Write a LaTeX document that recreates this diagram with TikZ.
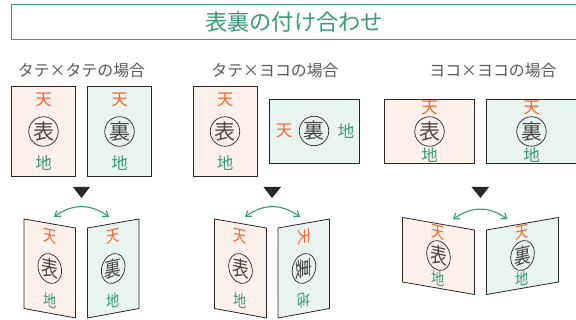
\documentclass[tikz,border=0pt]{standalone}
\usepackage{fontspec}
\setmainfont{Noto Sans CJK JP}
\definecolor{pgreen}{HTML}{3A9A7C}
\definecolor{porange}{HTML}{F26A35}
\definecolor{pink}{HTML}{FEF0EB}
\definecolor{mint}{HTML}{E9F3EF}
\definecolor{ink}{HTML}{2B2727}
\definecolor{lab}{HTML}{5A5A5A}
\usetikzlibrary{arrows.meta}
\tikzset{
  sheet/.style={draw=ink,line width=0.8pt},
  ten/.style={text=porange,font=\fontsize{16.5}{16.5}\selectfont,inner sep=0pt,transform shape},
  chi/.style={text=pgreen,font=\fontsize{16.5}{16.5}\selectfont,inner sep=0pt,transform shape},
  seal/.style={draw=ink,circle,line width=0.7pt,minimum size=29.5pt,inner sep=0pt,text=ink!85,font=\fontsize{21}{21}\selectfont,transform shape},
  heading/.style={text=lab,font=\fontsize{15.9}{15.9}\selectfont,inner sep=0pt},
  swing/.style={draw=pgreen,line width=1.1pt,{Straight Barb[length=5pt,width=7pt]}-{Straight Barb[length=5pt,width=7pt]}},
  drop/.style={fill=ink,draw=none}
}
\newcommand{\faces}[4]{% cx, cy, face, dy
  \node[ten] (#3t) at (#1,#2-#4) {天};
  \node[seal] (#3s) at (#1,#2) {#3};
  \node[chi] (#3b) at (#1,#2+#4) {地};
}
\begin{document}
\begin{tikzpicture}[x=1pt,y=-1pt]
\useasboundingbox (0,0) rectangle (576,320);
\fill[white] (0,0) rectangle (576,320);
% title
\node[draw=pgreen,line width=0.9pt,minimum width=575pt,minimum height=35pt,inner sep=0pt,anchor=north west] (title) at (11,4.5) {};
\node[text=pgreen,font=\fontsize{22.2}{22.2}\selectfont,inner sep=0pt] (titletext) at (294,22) {表裏の付け合わせ};
% headings
\node[heading] (h1) at (81.5,71) {タテ×タテの場合};
\node[heading] (h2) at (275,71) {タテ×ヨコの場合};
\node[heading] (h3) at (493,71) {ヨコ×ヨコの場合};
% case 1 flat
\draw[sheet,fill=pink] (11.5,86.5) rectangle (75.5,176);
\begin{scope}\faces{43.5}{131.5}{表}{31.5}\end{scope}
\draw[sheet,fill=mint] (87.5,86.5) rectangle (151.5,176);
\begin{scope}\faces{119.5}{131.5}{裏}{31.5}\end{scope}
% case 2 flat
\draw[sheet,fill=pink] (193,86.5) rectangle (257,176);
\begin{scope}\faces{225}{131.5}{表}{31.5}\end{scope}
\draw[sheet,fill=mint] (269,99.5) rectangle (359,163);
\node[ten] (t2) at (284,131) {天};
\node[seal] (s2) at (314,131) {裏};
\node[chi] (c2) at (346,131) {地};
% case 3 flat
\draw[sheet,fill=pink] (384.5,99.5) rectangle (474.5,163);
\begin{scope}\faces{429.5}{131.5}{表}{23.5}\end{scope}
\draw[sheet,fill=mint] (486.5,99.5) rectangle (577,163);
\begin{scope}\faces{531.5}{131.5}{裏}{23.5}\end{scope}
% triangles
\path[drop] (73,187) -- (90,187) -- (81.5,198) -- cycle;
\path[drop] (263.5,187) -- (281,187) -- (272,198) -- cycle;
\path[drop] (471.5,187) -- (489,187) -- (480.5,198) -- cycle;
% case 1 open
\draw[sheet,fill=pink] (24,219) -- (75.5,228) -- (75.5,318) -- (24,308.5) -- cycle;
\begin{scope}[shift={(49.8,268.5)},cm={0.8,-0.176,0,1,(0,0)}]\faces{0}{0}{表}{32}\end{scope}
\draw[sheet,fill=mint] (87.5,228) -- (139,219) -- (139,308.5) -- (87.5,318) -- cycle;
\begin{scope}[shift={(113.2,268.5)},cm={0.8,0.176,0,1,(0,0)}]\faces{0}{0}{裏}{32}\end{scope}
\coordinate (a1) at (54,217); \coordinate (b1) at (109,217);
\draw[swing] (a1) .. controls (72,203.5) and (91,203.5) .. (b1);
% case 2 open
\draw[sheet,fill=pink] (214.5,219) -- (266.5,228) -- (266.5,318) -- (214.5,308.5) -- cycle;
\begin{scope}[shift={(240.5,268.5)},cm={0.8,-0.176,0,1,(0,0)}]\faces{0}{0}{表}{32}\end{scope}
\draw[sheet,fill=mint] (278,228) -- (329.5,219) -- (329.5,308.5) -- (278,318) -- cycle;
\begin{scope}[shift={(304,268.5)},cm={0.8,0.176,0,1,(0,0)}]
\node[ten,rotate=-90] (t5) at (0,-32) {天};
\node[draw=ink,circle,line width=0.7pt,minimum size=29.5pt,inner sep=0pt,transform shape] (s5) at (0,0) {};
\node[text=ink!85,font=\fontsize{21}{21}\selectfont,inner sep=0pt,transform shape,rotate=-90] (k5) at (0,0) {裏};
\node[chi,rotate=180] (c5) at (0,32) {地};
\end{scope}
\coordinate (a2) at (245,217); \coordinate (b2) at (300,217);
\draw[swing] (a2) .. controls (263,203.5) and (282,203.5) .. (b2);
% case 3 open
\draw[sheet,fill=pink] (402.5,217.5) -- (474.5,230) -- (474.5,294.5) -- (402.5,282) -- cycle;
\begin{scope}[shift={(438.5,255.5)},cm={0.8,-0.174,0,1,(0,0)}]\faces{0}{0}{表}{23}\end{scope}
\draw[sheet,fill=mint] (486.5,230) -- (558.5,217.5) -- (558.5,282) -- (486.5,294.5) -- cycle;
\begin{scope}[shift={(522.5,255.5)},cm={0.8,0.174,0,1,(0,0)}]\faces{0}{0}{裏}{23}\end{scope}
\coordinate (a3) at (453,219.5); \coordinate (b3) at (507.5,219.5);
\draw[swing] (a3) .. controls (471,206) and (490,206) .. (b3);
\end{tikzpicture}
\end{document}
